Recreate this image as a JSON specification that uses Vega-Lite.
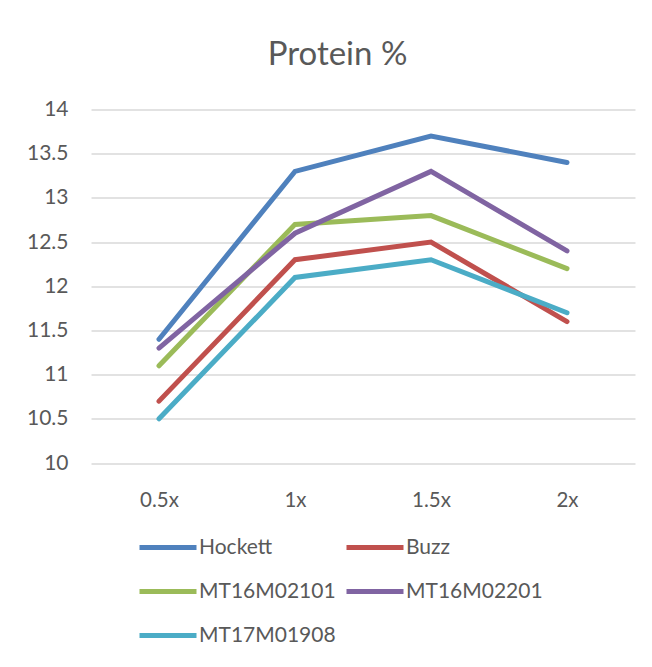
{
  "$schema": "https://vega.github.io/schema/vega-lite/v6.json",
  "width": 544,
  "height": 353.5,
  "autosize": "none",
  "padding": {"left": 91, "top": 109.5, "right": 17, "bottom": 204},
  "background": "white",
  "title": {
    "text": "Protein %",
    "font": "Lato",
    "fontSize": 33,
    "fontWeight": "normal",
    "color": "#595959",
    "anchor": "middle",
    "baseline": "alphabetic",
    "dx": -25.5,
    "dy": 43,
    "offset": 43.5
  },
  "data": {
    "values": [
      {"rate": "0.5x", "line": "Hockett", "protein": 11.4},
      {"rate": "1x", "line": "Hockett", "protein": 13.3},
      {"rate": "1.5x", "line": "Hockett", "protein": 13.7},
      {"rate": "2x", "line": "Hockett", "protein": 13.4},
      {"rate": "0.5x", "line": "Buzz", "protein": 10.7},
      {"rate": "1x", "line": "Buzz", "protein": 12.3},
      {"rate": "1.5x", "line": "Buzz", "protein": 12.5},
      {"rate": "2x", "line": "Buzz", "protein": 11.6},
      {"rate": "0.5x", "line": "MT16M02101", "protein": 11.1},
      {"rate": "1x", "line": "MT16M02101", "protein": 12.7},
      {"rate": "1.5x", "line": "MT16M02101", "protein": 12.8},
      {"rate": "2x", "line": "MT16M02101", "protein": 12.2},
      {"rate": "0.5x", "line": "MT16M02201", "protein": 11.3},
      {"rate": "1x", "line": "MT16M02201", "protein": 12.6},
      {"rate": "1.5x", "line": "MT16M02201", "protein": 13.3},
      {"rate": "2x", "line": "MT16M02201", "protein": 12.4},
      {"rate": "0.5x", "line": "MT17M01908", "protein": 10.5},
      {"rate": "1x", "line": "MT17M01908", "protein": 12.1},
      {"rate": "1.5x", "line": "MT17M01908", "protein": 12.3},
      {"rate": "2x", "line": "MT17M01908", "protein": 11.7}
    ]
  },
  "mark": {"type": "line", "strokeWidth": 5, "strokeCap": "round", "strokeJoin": "miter"},
  "encoding": {
    "x": {
      "field": "rate",
      "type": "ordinal",
      "sort": ["0.5x", "1x", "1.5x", "2x"],
      "scale": {"type": "point", "padding": 0.5},
      "axis": {
        "title": null,
        "labelAngle": 0,
        "domain": false,
        "ticks": false,
        "grid": false,
        "labelPadding": 27,
        "labelFont": "Lato",
        "labelFontSize": 20.5,
        "labelColor": "#595959"
      }
    },
    "y": {
      "field": "protein",
      "type": "quantitative",
      "scale": {"domain": [10, 14], "nice": false, "zero": false},
      "axis": {
        "title": null,
        "values": [10, 10.5, 11, 11.5, 12, 12.5, 13, 13.5, 14],
        "labelExpr": "'' + datum.value",
        "domain": false,
        "ticks": false,
        "grid": true,
        "labelPadding": 23,
        "labelFont": "Lato",
        "labelFontSize": 21,
        "labelColor": "#595959",
        "gridColor": "#d9d9d9",
        "gridWidth": 1.3
      }
    },
    "color": {
      "field": "line",
      "type": "nominal",
      "scale": {
        "domain": ["Hockett", "Buzz", "MT16M02101", "MT16M02201", "MT17M01908"],
        "range": ["#4F81BD", "#C0504D", "#9BBB59", "#8064A2", "#4BACC6"]
      },
      "legend": {
        "title": null,
        "orient": "none",
        "legendX": 46,
        "legendY": 407,
        "direction": "horizontal",
        "columns": 2,
        "padding": 0,
        "symbolType": "stroke",
        "symbolSize": 3249,
        "symbolStrokeWidth": 5,
        "labelFont": "Lato",
        "labelFontSize": 21,
        "labelColor": "#595959",
        "labelOffset": 0,
        "columnPadding": 0,
        "rowPadding": 3,
        "labelLimit": 300
      }
    }
  },
  "config": {
    "view": {"stroke": null}
  }
}
